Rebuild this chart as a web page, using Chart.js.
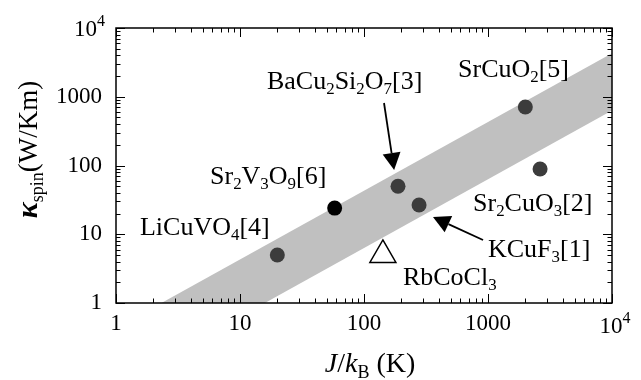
<!DOCTYPE html>
<html><head><meta charset="utf-8">
<script src="https://cdn.jsdelivr.net/npm/chart.js@4/dist/chart.umd.min.js"></script>
<style>html,body{margin:0;padding:0;background:#fff;}</style>
</head><body>
<canvas id="c" width="641" height="380"></canvas>
<script>
// ---- data ----
const bandJ = [1, 10000];
const bandUpper = [0.43, 4300];
const bandLower = [0.063, 630];
const materialNames = ['LiCuVO4', 'Sr2V3O9', 'BaCu2Si2O7', 'KCuF3', 'SrCuO2', 'Sr2CuO3'];
const materialJ = [20, 58, 188, 278, 2000, 2630];
const materialKappa = [5, 24, 50, 26.6, 710, 89];
const rbJ = [142];
const rbKappa = [5.0];
const tickValues = [1, 10, 100, 1000, 10000];
const tickLabels = ['1', '10', '100', '1000', '10^4'];
const labelTexts = ['LiCuVO_4[4]', 'Sr_2V_3O_9[6]', 'BaCu_2Si_2O_7[3]', 'SrCuO_2[5]', 'Sr_2CuO_3[2]', 'KCuF_3[1]', 'RbCoCl_3'];
const labelJ = [1.56, 5.73, 16.5, 573, 757, 1000, 206];
const labelKappa = [9.75, 53.8, 1297, 1937, 21.8, 4.67, 1.83];
const arrowFromJ = [145, 912];
const arrowFromKappa = [811, 8.25];
const arrowToJ = [175, 360];
const arrowToKappa = [86, 17.8];

// ---- style ----
const FONT = '"Liberation Serif", "Times New Roman", serif';
const TICK_SIZE = 23, LABEL_SIZE = 26, TITLE_SIZE = 28;
const dotColors = ['#3c3c3c', '#000000', '#3c3c3c', '#3c3c3c', '#3c3c3c', '#3c3c3c'];

function isDecade(v) { const l = Math.log10(v); return Math.abs(l - Math.round(l)) < 1e-9; }
function isMinor(v) { const e = Math.floor(Math.log10(v) + 1e-9); const s = v / Math.pow(10, e); return Math.abs(s - Math.round(s)) < 1e-6; }

function parseRich(str) {
  const segs = []; let buf = '';
  for (let i = 0; i < str.length; i++) {
    if (str[i] === '_' && i + 1 < str.length) {
      if (buf) { segs.push({t: buf, sub: false}); buf = ''; }
      segs.push({t: str[i + 1], sub: true}); i++;
    } else buf += str[i];
  }
  if (buf) segs.push({t: buf, sub: false});
  return segs;
}
function drawRich(ctx, str, x, y, size) {
  const segs = parseRich(str);
  ctx.textBaseline = 'alphabetic'; ctx.textAlign = 'left';
  let cx = x;
  for (const s of segs) {
    const sz = s.sub ? size * 0.65 : size;
    ctx.font = sz + 'px ' + FONT;
    ctx.fillText(s.t, cx, y + (s.sub ? size * 0.2 : 0));
    cx += ctx.measureText(s.t).width;
  }
}
function drawSegs(ctx, segs, x, y) {
  let cx = x;
  for (const s of segs) {
    ctx.font = s.font;
    ctx.fillText(s.t, cx, y + (s.dy || 0));
    cx += ctx.measureText(s.t).width;
  }
  return cx - x;
}
function segsWidth(ctx, segs) {
  let w = 0; for (const s of segs) { ctx.font = s.font; w += ctx.measureText(s.t).width; } return w;
}
function powSegs(label) {
  const [b, e] = label.split('^');
  return [{t: b, font: TICK_SIZE + 'px ' + FONT}, {t: e, font: Math.round(TICK_SIZE * 0.68) + 'px ' + FONT, dy: -TICK_SIZE * 0.42}];
}
function arrow(ctx, x1, y1, x2, y2) {
  const ang = Math.atan2(y2 - y1, x2 - x1), L = 17, W = 9;
  const bx = x2 - L * Math.cos(ang), by = y2 - L * Math.sin(ang);
  ctx.beginPath(); ctx.moveTo(x1, y1); ctx.lineTo(bx, by); ctx.lineWidth = 1.8; ctx.stroke();
  ctx.beginPath(); ctx.moveTo(x2, y2);
  ctx.lineTo(bx + W * Math.sin(ang), by - W * Math.cos(ang));
  ctx.lineTo(bx - W * Math.sin(ang), by + W * Math.cos(ang));
  ctx.closePath(); ctx.fill();
}

const decor = {
  id: 'decor',
  afterDatasetsDraw(chart) {
    const ctx = chart.ctx, a = chart.chartArea, xs = chart.scales.x, ys = chart.scales.y;
    ctx.save();
    ctx.strokeStyle = '#000'; ctx.fillStyle = '#000'; ctx.lineWidth = 1;
    // inward ticks, all four sides
    for (const t of xs.ticks) {
      if (!isMinor(t.value)) continue;
      const p = Math.round(xs.getPixelForValue(t.value)) + 0.5, len = isDecade(t.value) ? 9 : 4.5;
      ctx.beginPath(); ctx.moveTo(p, a.bottom); ctx.lineTo(p, a.bottom - len);
      ctx.moveTo(p, a.top); ctx.lineTo(p, a.top + len); ctx.stroke();
    }
    for (const t of ys.ticks) {
      if (!isMinor(t.value)) continue;
      const p = Math.round(ys.getPixelForValue(t.value)) + 0.5, len = isDecade(t.value) ? 9 : 4.5;
      ctx.beginPath(); ctx.moveTo(a.left, p); ctx.lineTo(a.left + len, p);
      ctx.moveTo(a.right, p); ctx.lineTo(a.right - len, p); ctx.stroke();
    }
    ctx.lineWidth = 1.5;
    ctx.strokeRect(a.left, a.top, a.right - a.left, a.bottom - a.top);
    // power-of-ten tick labels with a real superscript
    ctx.textAlign = 'left'; ctx.textBaseline = 'alphabetic';
    tickValues.forEach((v, i) => {
      if (tickLabels[i].indexOf('^') < 0) return;
      const segs = powSegs(tickLabels[i]);
      ctx.font = segs[0].font; const bw = ctx.measureText(segs[0].t).width;
      const w = segsWidth(ctx, segs);
      const px = xs.getPixelForValue(v);
      drawSegs(ctx, segs, px - bw / 2 - 1, a.bottom + 30);
      const py = ys.getPixelForValue(v);
      drawSegs(ctx, segs, a.left - 11 - w, py + 8);
    });
    // labels
    for (let i = 0; i < labelTexts.length; i++) {
      drawRich(ctx, labelTexts[i], xs.getPixelForValue(labelJ[i]), ys.getPixelForValue(labelKappa[i]), LABEL_SIZE);
    }
    // arrows
    for (let i = 0; i < arrowFromJ.length; i++) {
      arrow(ctx, xs.getPixelForValue(arrowFromJ[i]), ys.getPixelForValue(arrowFromKappa[i]),
            xs.getPixelForValue(arrowToJ[i]), ys.getPixelForValue(arrowToKappa[i]));
    }
    // x title
    const S = TITLE_SIZE;
    const xt = [
      {t: 'J', font: 'italic ' + S + 'px ' + FONT},
      {t: '/', font: S + 'px ' + FONT},
      {t: 'k', font: 'italic ' + S + 'px ' + FONT},
      {t: 'B', font: Math.round(S * 0.65) + 'px ' + FONT, dy: S * 0.2},
      {t: ' (K)', font: S + 'px ' + FONT}
    ];
    const xw = segsWidth(ctx, xt);
    drawSegs(ctx, xt, (a.left + a.right) / 2 + 6 - xw / 2, a.bottom + 69);
    // y title
    const Y = 27;
    const yt = [
      {t: 'κ', font: 'italic bold ' + (Y + 3) + 'px ' + FONT},
      {t: 'spin', font: Math.round(Y * 0.68) + 'px ' + FONT, dy: Y * 0.22},
      {t: '(W/Km)', font: Y + 'px ' + FONT}
    ];
    const yw = segsWidth(ctx, yt);
    ctx.translate(37, (a.top + a.bottom) / 2 - 16);
    ctx.rotate(-Math.PI / 2);
    drawSegs(ctx, yt, -yw / 2, 0);
    ctx.restore();
  }
};

const tickCb = (v) => {
  const i = tickValues.findIndex(t => Math.abs(t - v) < 1e-9 * t);
  if (i < 0 || tickLabels[i].indexOf('^') >= 0) return '';
  return tickLabels[i];
};

new Chart(document.getElementById('c'), {
  type: 'scatter',
  data: {
    datasets: [
      {label: 'band upper', data: bandJ.map((j, i) => ({x: j, y: bandUpper[i]})), showLine: true, fill: '+1',
       backgroundColor: '#c0c0c0', borderColor: 'rgba(0,0,0,0)', borderWidth: 0, pointRadius: 0, order: 5},
      {label: 'band lower', data: bandJ.map((j, i) => ({x: j, y: bandLower[i]})), showLine: true, fill: false,
       borderColor: 'rgba(0,0,0,0)', borderWidth: 0, pointRadius: 0, order: 4},
      {label: 'materials', data: materialJ.map((j, i) => ({x: j, y: materialKappa[i], name: materialNames[i]})),
       pointRadius: 7.5, pointBackgroundColor: dotColors, pointBorderWidth: 0, pointBorderColor: 'rgba(0,0,0,0)', order: 1},
      {label: 'RbCoCl3', data: rbJ.map((j, i) => ({x: j, y: rbKappa[i]})), pointStyle: 'triangle',
       pointRadius: 15, pointBackgroundColor: 'rgba(255,255,255,0)', pointBorderColor: '#000', pointBorderWidth: 1.5, order: 0}
    ]
  },
  options: {
    responsive: false, animation: false, devicePixelRatio: 1,
    layout: {padding: {left: 0, right: 29, top: 28, bottom: 0}},
    plugins: {legend: {display: false}, tooltip: {enabled: false}},
    scales: {
      x: {type: 'logarithmic', position: 'bottom', min: 1, max: 10000,
          grid: {display: false, drawTicks: false}, border: {display: false},
          ticks: {autoSkip: false, maxRotation: 0, minRotation: 0, padding: 7, color: '#000',
                  font: {family: FONT, size: TICK_SIZE}, callback: tickCb},
          afterFit: (s) => { s.height = 77; }},
      y: {type: 'logarithmic', position: 'left', min: 1, max: 10000,
          grid: {display: false, drawTicks: false}, border: {display: false},
          ticks: {autoSkip: false, padding: 14, color: '#000',
                  font: {family: FONT, size: TICK_SIZE}, callback: tickCb},
          afterFit: (s) => { s.width = 116; }}
    }
  },
  plugins: [decor]
});
</script>
</body></html>
